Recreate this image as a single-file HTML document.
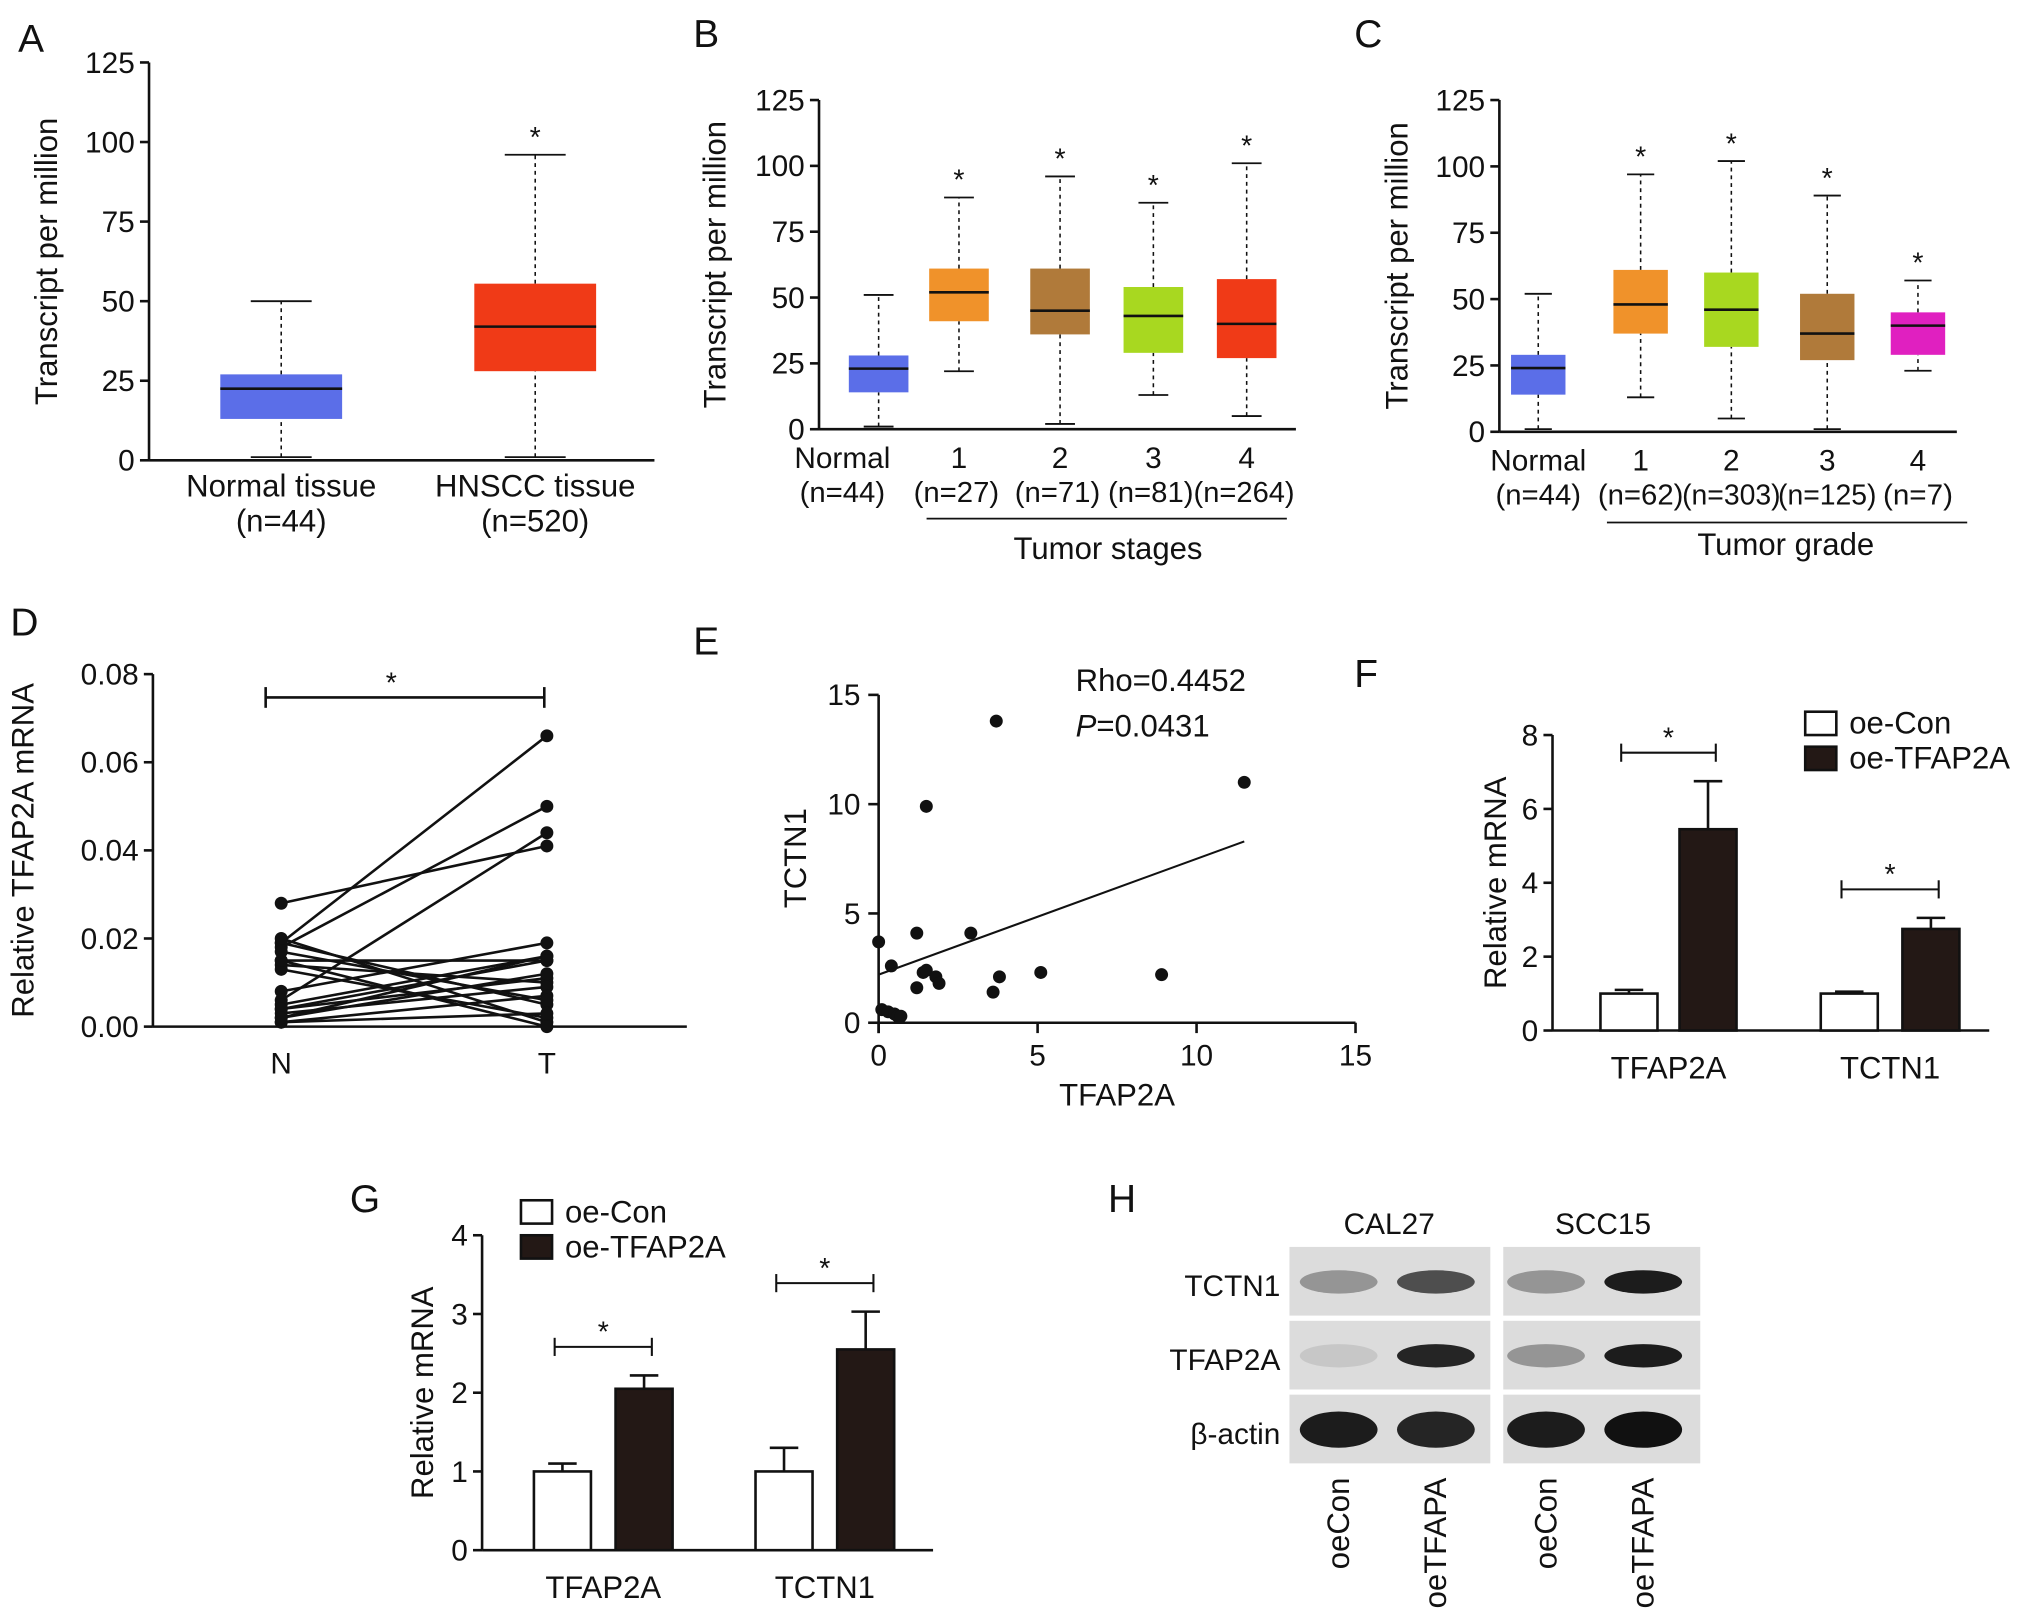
<!DOCTYPE html>
<html><head><meta charset="utf-8"><style>
html,body{margin:0;padding:0;background:#fff}
svg{display:block;font-family:"Liberation Sans",Arial,sans-serif}
</style></head><body>
<svg id="fig" width="2032" height="1623" viewBox="0 0 1568 1252" xmlns="http://www.w3.org/2000/svg"></svg>
<script>
// ---------- DATA ----------
const aCats=["Normal tissue","HNSCC tissue"], aN=["(n=44)","(n=520)"];
const aStats=[[1,13,22.5,27,50],[1,28,42,55.5,96]];
const bCats=["Normal","1","2","3","4"], bN=["(n=44)","(n=27)","(n=71)","(n=81)","(n=264)"];
const bStats=[[1,14,23,28,51],[22,41,52,61,88],[2,36,45,61,96],[13,29,43,54,86],[5,27,40,57,101]];
const cCats=["Normal","1","2","3","4"], cN=["(n=44)","(n=62)","(n=303)","(n=125)","(n=7)"];
const cStats=[[1,14,24,29,52],[13,37,48,61,97],[5,32,46,60,102],[1,27,37,52,89],[23,29,40,45,57]];
const tpmTicks=[0,25,50,75,100,125];
const dN=[0.028,0.019,0.018,0.019,0.020,0.015,0.014,0.013,0.008,0.006,0.005,0.004,0.003,0.002,0.001,0.001,0.015,0.017,0.004,0.002];
const dT=[0.041,0.066,0.050,0.005,0.001,0.015,0.010,0.002,0.019,0.044,0.016,0.011,0.009,0.016,0.007,0.003,0.000,0.006,0.015,0.012];
const dTicks=[0,0.02,0.04,0.06,0.08];
const eX=[0,0.1,0.3,0.5,0.6,0.7,0.4,1.2,1.5,1.4,1.5,1.8,1.9,1.2,2.9,3.7,3.8,3.6,5.1,8.9,11.5];
const eY=[3.7,0.6,0.5,0.4,0.3,0.3,2.6,4.1,9.9,2.3,2.4,2.1,1.8,1.6,4.1,13.8,2.1,1.4,2.3,2.2,11.0];
const eTicks=[0,5,10,15], eFit=[2.2,0.53];
const fCats=["TFAP2A","TCTN1"], fCon=[1.0,1.0], fOe=[5.45,2.75], fConErr=[0.1,0.05], fOeErr=[1.3,0.3], fTicks=[0,2,4,6,8];
const gCats=["TFAP2A","TCTN1"], gCon=[1.0,1.0], gOe=[2.05,2.55], gConErr=[0.1,0.3], gOeErr=[0.17,0.48], gTicks=[0,1,2,3,4];

// ---------- HELPERS ----------
const S=document.getElementById('fig'), NS="http://www.w3.org/2000/svg";
function el(t,a,txt){const e=document.createElementNS(NS,t);for(const k in a)e.setAttribute(k,a[k]);if(txt!==undefined)e.textContent=txt;S.appendChild(e);return e;}
function line(x1,y1,x2,y2,w,dash){return el('line',{x1,y1,x2,y2,stroke:'#111','stroke-width':w||1.6,'stroke-dasharray':dash||'none'});}
function text(x,y,s,size,anchor,extra){return el('text',Object.assign({x,y,'font-size':size,'text-anchor':anchor||'middle',fill:'#111'},extra||{}),s);}
function label(x,y,s){const t=text(x,y,s,30,'start');}
function yAxis(x,y0,y1,ticks,max,fmt,xEnd,name,title,tx){
  const sc=v=>y0-(v/max)*(y0-y1);
  const ax=line(x,y0,x,y1,2);
  const xa=line(x,y0,xEnd,y0,2);
  ticks.forEach(t=>{line(x-7,sc(t),x,sc(t),2);const l=text(x-11,sc(t)+8,fmt(t),23,'end');});
  const ty=(y0+y1)/2;const tt=text(tx,ty,title,24,'middle',{transform:`rotate(-90 ${tx} ${ty})`});
  
  return sc;
}
function boxes(name,stats,centers,w,colors,sc,skipStar){
  stats.forEach((s,i)=>{const c=centers[i];
    line(c,sc(s[0]),c,sc(s[1]),1.2,'3,3');line(c,sc(s[3]),c,sc(s[4]),1.2,'3,3');
    line(c-w/4,sc(s[0]),c+w/4,sc(s[0]),1.4);line(c-w/4,sc(s[4]),c+w/4,sc(s[4]),1.4);
    const r=el('rect',{x:c-w/2,y:sc(s[3]),width:w,height:sc(s[1])-sc(s[3]),fill:colors[i]});
    
    line(c-w/2,sc(s[2]),c+w/2,sc(s[2]),2);
    if(i>0){const st=text(c,sc(s[4])-6,'*',22);}
  });
}

// ---------- PANEL A ----------
label(14,40,'A');
let sA=yAxis(115,355,48,tpmTicks,125,String,505,'panel-a','Transcript per million',44);
const aX=[217,413];
boxes('panel-a',aStats,aX,94,['#5b6ee8','#f03a17'],sA);
aCats.forEach((c,i)=>{text(aX[i],383,c,24);text(aX[i],410,aN[i],24);});

// ---------- PANEL B ----------
label(535,36,'B');
let sB=yAxis(632,331,77,tpmTicks,125,String,1000,'panel-b','Transcript per million',560);
const bX=[678,740,818,890,962];
boxes('panel-b',bStats,bX,46,['#5b6ee8','#f0922a','#b07a3a','#a8d820','#f03a17'],sB);
bCats.forEach((c,i)=>{text(i==0?650:bX[i],361,c,23);text(i==0?650:bX[i]-2,387,bN[i],22,'middle',{textLength:i==4?78:66,lengthAdjust:'spacingAndGlyphs'});});
line(715,400,993,400,1.4);text(855,431,'Tumor stages',24);

// ---------- PANEL C ----------
label(1045,36,'C');
let sC=yAxis(1157,333,77,tpmTicks,125,String,1510,'panel-c','Transcript per million',1086);
const cX=[1187,1266,1336,1410,1480];
boxes('panel-c',cStats,cX,42,['#5b6ee8','#f0922a','#a8d820','#b07a3a','#e020c0'],sC);
cCats.forEach((c,i)=>{text(cX[i],363,c,23);text(cX[i],389,cN[i],22,'middle',{textLength:i==0?66:(i==4?54:(i==1?66:76)),lengthAdjust:'spacingAndGlyphs'});});
line(1240,403,1518,403,1.4);text(1378,428,'Tumor grade',24);

// ---------- PANEL D ----------
label(8,490,'D');
let sD=yAxis(118,792,520,dTicks,0.08,v=>v.toFixed(2),530,'panel-d','Relative TFAP2A mRNA',26);
const dXN=217,dXT=422;
dN.forEach((v,i)=>{const l=line(dXN,sD(v),dXT,sD(dT[i]),2);});
dN.forEach((v,i)=>{el('circle',{cx:dXN,cy:sD(v),r:5,fill:'#111'});el('circle',{cx:dXT,cy:sD(dT[i]),r:5,fill:'#111'});});
text(dXN,828,'N',23);text(dXT,828,'T',23);
line(205,538,420,538,2);line(205,530,205,546,2);line(420,530,420,546,2);text(302,534,'*',22);

// ---------- PANEL E ----------
label(535,505,'E');
const ex=v=>678+v/15*(1046-678), ey=v=>789-v/15*(789-536);
line(670,789,1046,789,2);line(678,536,678,797,2);
eTicks.forEach(t=>{line(ex(t),789,ex(t),797,2);text(ex(t),822,String(t),23);line(670,ey(t),678,ey(t),2);text(664,ey(t)+8,String(t),23,'end');});
text(862,853,'TFAP2A',24);
{const tt=text(622,662,'TCTN1',24,'middle',{transform:'rotate(-90 622 662)'});}
eX.forEach((v,i)=>{const c=el('circle',{cx:ex(v),cy:ey(eY[i]),r:5,fill:'#111'});});
{const l=line(ex(0),ey(eFit[0]),ex(11.5),ey(eFit[0]+eFit[1]*11.5),1.6);}
text(830,533,'Rho=0.4452',24,'start');
{const t=text(830,568,'',24,'start');const a=document.createElementNS(NS,'tspan');a.setAttribute('font-style','italic');a.textContent='P';t.appendChild(a);t.appendChild(document.createTextNode('=0.0431'));}

// ---------- BAR PANEL FUNCTION ----------
function barPanel(name,sc,cats,con,oe,ce,oee,xCon,xOe,w,y0,labY){
  cats.forEach((c,i)=>{
    const r1=el('rect',{x:xCon[i]-w/2,y:sc(con[i]),width:w,height:y0-sc(con[i]),fill:'#fff',stroke:'#111','stroke-width':2});
    
    line(xCon[i],sc(con[i]),xCon[i],sc(con[i]+ce[i]),2);line(xCon[i]-w/4,sc(con[i]+ce[i]),xCon[i]+w/4,sc(con[i]+ce[i]),2);
    line(xOe[i],sc(oe[i]),xOe[i],sc(oe[i]+oee[i]),2);line(xOe[i]-w/4,sc(oe[i]+oee[i]),xOe[i]+w/4,sc(oe[i]+oee[i]),2);
    const r2=el('rect',{x:xOe[i]-w/2,y:sc(oe[i]),width:w,height:y0-sc(oe[i]),fill:'#231815',stroke:'#111','stroke-width':2});
    
    text((xCon[i]+xOe[i])/2,labY,c,24);
    const by=sc(oe[i]+oee[i])-22;
    line(xCon[i]-6,by,xOe[i]+6,by,1.6);line(xCon[i]-6,by-7,xCon[i]-6,by+7,1.6);line(xOe[i]+6,by-7,xOe[i]+6,by+7,1.6);
    text((xCon[i]+xOe[i])/2,by-4,'*',22);
  });
}
function legend(x,y){
  el('rect',{x,y,width:24,height:18,fill:'#fff',stroke:'#111','stroke-width':2,});
  text(x+34,y+17,'oe-Con',24,'start');
  el('rect',{x,y:y+27,width:24,height:18,fill:'#231815',stroke:'#111','stroke-width':2,});
  text(x+34,y+44,'oe-TFAP2A',24,'start');
}

// ---------- PANEL F ----------
label(1045,530,'F');
let sF=yAxis(1198,795,567,fTicks,8,String,1535,'panel-f','Relative mRNA',1162);
barPanel('panel-f',sF,fCats,fCon,fOe,fConErr,fOeErr,[1257,1427],[1318,1490],44,795,832);
legend(1393,549);

// ---------- PANEL G ----------
label(270,935,'G');
let sG=yAxis(372,1196,953,gTicks,4,String,720,'panel-g','Relative mRNA',334);
barPanel('panel-g',sG,gCats,gCon,gOe,gConErr,gOeErr,[434,605],[497,668],44,1196,1233);
legend(402,926);

// ---------- PANEL H (western blot) ----------
label(855,935,'H');
text(1072,952,'CAL27',23);text(1237,952,'SCC15',23);
const rows=['TCTN1','TFAP2A','β-actin'], rowY=[962,1019,1076];
const bandInt=[[0.35,0.7,0.35,0.95],[0.1,0.9,0.35,0.95],[0.95,0.9,0.95,1.0]];
const laneX=[1033,1108,1193,1268];
rows.forEach((r,ri)=>{
  text(988,rowY[ri]+38,r,23,'end');
  [[995,155],[1160,152]].forEach(p=>{el('rect',{x:p[0],y:rowY[ri],width:p[1],height:53,fill:'#dcdcdc',});});
  laneX.forEach((lx,li)=>{const a=bandInt[ri][li];
    el('ellipse',{cx:lx,cy:rowY[ri]+27,rx:30,ry:ri==2?14:9,fill:'#111','fill-opacity':a,});});
});
['oeCon','oeTFAPA','oeCon','oeTFAPA'].forEach((s,i)=>{const x=laneX[i]+8,y=1140;text(x,y,s,24,'end',{transform:`rotate(-90 ${x} ${y})`});});
</script>
</body></html>
